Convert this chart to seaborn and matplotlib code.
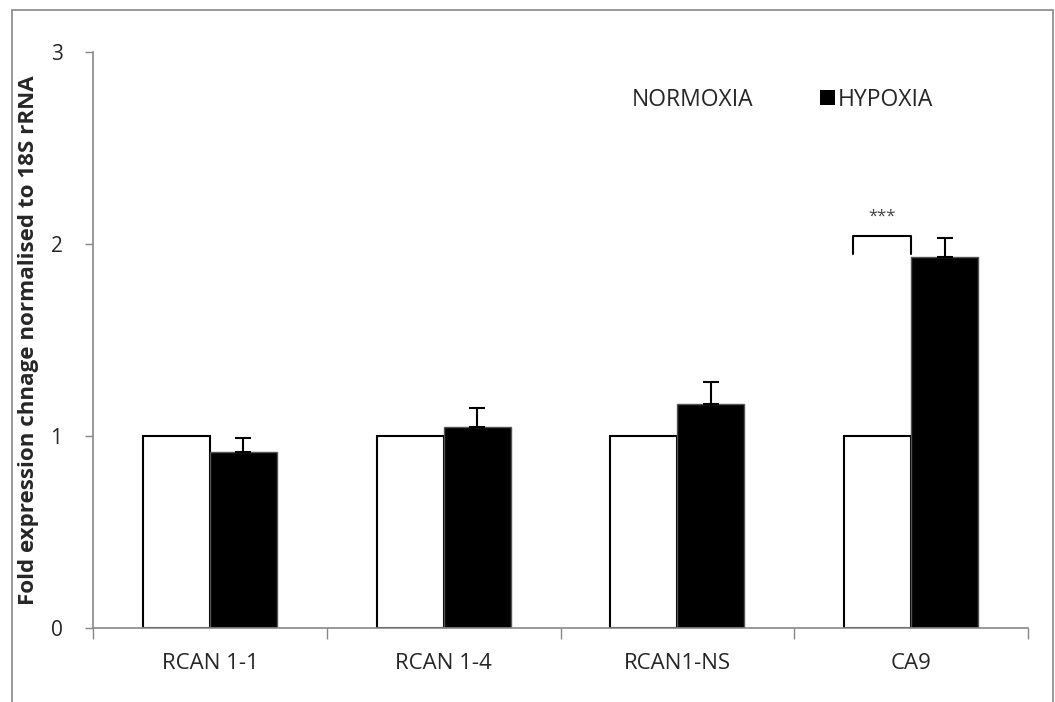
import matplotlib
matplotlib.use("Agg")
import matplotlib.pyplot as plt
import matplotlib.patches as mpatches
import seaborn as sns
import pandas as pd
import numpy as np

categories = ["RCAN 1-1", "RCAN 1-4", "RCAN1-NS", "CA9"]
conditions = ["NORMOXIA", "HYPOXIA"]
normoxia = [1.0, 1.0, 1.0, 1.0]
hypoxia = [0.915, 1.047, 1.167, 1.93]
hypoxia_err = [0.075, 0.10, 0.115, 0.10]
ylabel = "Fold expression chnage normalised to 18S rRNA"
yticks = [0, 1, 2, 3]

sns.set_theme(style="white")
plt.rcParams["font.family"] = ["Open Sans", "DejaVu Sans"]

df = pd.DataFrame({
    "gene": categories * 2,
    "condition": [conditions[0]] * 4 + [conditions[1]] * 4,
    "value": normoxia + hypoxia,
})

fig = plt.figure(figsize=(10.55, 7.02), dpi=100)
ax = fig.add_axes([0.0882, 0.1054, 0.9744 - 0.0882, 0.9259 - 0.1054])

sns.barplot(data=df, x="gene", y="value", hue="condition", order=categories,
            hue_order=conditions, palette={"NORMOXIA": "white", "HYPOXIA": "black"},
            width=0.574, errorbar=None, ax=ax, legend=False)

bars = ax.patches
for p in bars[:4]:
    p.set_edgecolor("black")
    p.set_linewidth(1.5)
for p in bars[4:8]:
    p.set_edgecolor("#555555")
    p.set_linewidth(1.0)

# error bars on hypoxia bars (upper only)
hx = [p.get_x() + p.get_width() / 2 for p in bars[4:8]]
ax.errorbar(hx, hypoxia, yerr=[np.zeros(4), hypoxia_err], fmt="none",
            ecolor="black", elinewidth=1.5, capsize=6, capthick=1.5, zorder=5)

ax.set_ylim(0, 3)
ax.set_xlim(-0.5, len(categories) - 0.5)
ax.set_yticks(yticks)
ax.set_yticklabels([str(t) for t in yticks], fontsize=15)
ax.set_xticks(np.arange(-0.5, len(categories)), labels=[""] * (len(categories) + 1))
ax.set_xticks(np.arange(len(categories)), labels=categories, minor=True)
ax.tick_params(axis="x", which="minor", length=0, labelsize=16, pad=18)
ax.tick_params(axis="x", which="major", direction="out", length=8, width=1, color="#888888", bottom=True)
ax.tick_params(axis="y", direction="out", length=6, width=1, color="#888888", left=True, pad=16)
ax.set_xlabel("")
ax.set_ylabel(ylabel, fontsize=16.1, fontweight="bold", labelpad=8)

for s in ["top", "right"]:
    ax.spines[s].set_visible(False)
for s in ["left", "bottom"]:
    ax.spines[s].set_color("#888888")
    ax.spines[s].set_linewidth(1.2)

# significance bracket on CA9
bx = [bars[3].get_x() + 0.04, bars[3].get_x() + bars[3].get_width() + 0.0]
ax.plot([bx[0], bx[0], bx[1], bx[1]], [1.95, 2.04, 2.04, 1.95], color="black", lw=1.5, zorder=5)
ax.text((bx[0] + bx[1]) / 2, 2.1, "***", ha="center", va="bottom", fontsize=12, color="#444444")

# legend
handles = [mpatches.Patch(facecolor="white", edgecolor="none", label=conditions[0]),
           mpatches.Patch(facecolor="black", edgecolor="none", label=conditions[1])]
ax.legend(handles=handles, ncol=2, frameon=False, fontsize=16.5,
          loc="center", bbox_to_anchor=(0.728, 0.917), handlelength=0.65, handleheight=0.65,
          handletextpad=0.12, columnspacing=2.9)

# figure border
fig.add_artist(mpatches.Rectangle((0.0114, -0.02), 0.998 - 0.0114, 0.9858 + 0.02,
                                  transform=fig.transFigure, fill=False,
                                  edgecolor="#888888", linewidth=1.2))

fig.savefig("out.png", dpi=100)
